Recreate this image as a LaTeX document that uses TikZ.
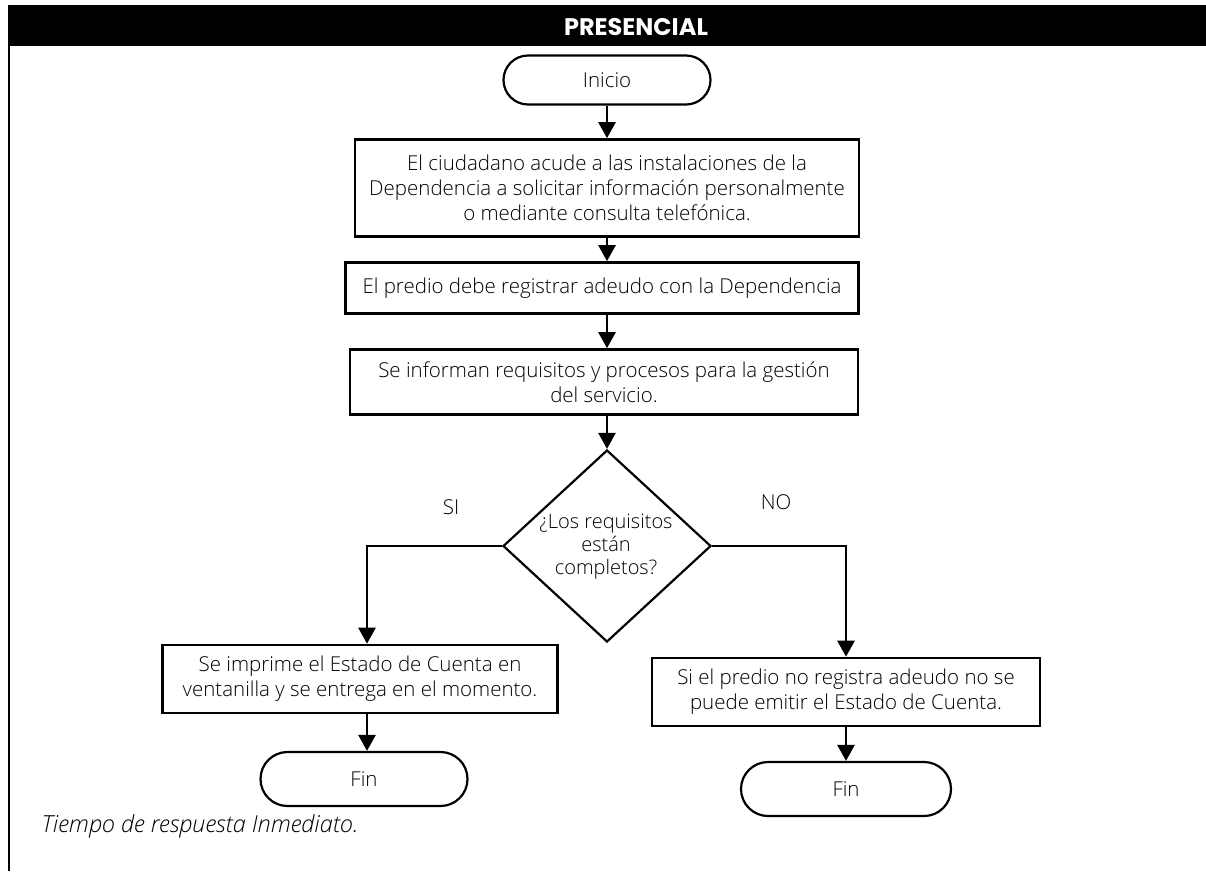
\documentclass[tikz,border=0pt]{standalone}
\usepackage{fontspec}
\setmainfont{Open Sans Light}
\newfontfamily\titlefont{Poppins}
\usetikzlibrary{arrows.meta,shapes.geometric,shapes.misc}
\begin{document}
\begin{tikzpicture}[x=1pt,y=-1pt,
  every node/.style={font=\fontsize{20.5}{25}\selectfont},
  box/.style={draw,line width=2.6pt,rectangle,align=center,inner sep=0pt},
  term/.style={draw,line width=2.2pt,rounded rectangle,inner sep=0pt,align=center},
  dec/.style={draw,line width=2.2pt,diamond,inner sep=0pt,align=center},
  arr/.style={line width=2.6pt,-{Triangle[length=16pt,width=17pt]}},
  lbl/.style={font=\fontsize{20.5}{22}\selectfont}]
\useasboundingbox (0,0) rectangle (1206,871);
\fill[black] (8,5) rectangle (1206,46);
\node[text=white,font=\fontsize{24}{25}\titlefont\bfseries] (title) at (636,27) {PRESENCIAL};
\draw[line width=2pt] (9,46) -- (9,871);

\node[term,minimum width=207pt,minimum height=49pt] (ini) at (607,80) {Inicio};
\node[box,minimum width=504pt,minimum height=97pt] (b1) at (607,188)
  {El ciudadano acude a las instalaciones de la\\Dependencia a solicitar información personalmente\\o mediante consulta telefónica.};
\node[box,minimum width=513pt,minimum height=51pt] (b2) at (602,288)
  {El predio debe registrar adeudo con la Dependencia};
\node[box,minimum width=508pt,minimum height=65pt] (b3) at (604,382)
  {Se informan requisitos y procesos para la gestión\\del servicio.};
\node[dec,minimum width=208pt,minimum height=192pt] (d) at (607,546) {};
\node[align=center,font=\fontsize{20}{23}\selectfont] (dt) at (606,547) {¿Los requisitos\\están\\completos?};
\node[lbl] (si) at (451,507) {SI};
\node[lbl] (no) at (776,502) {NO};
\node[box,minimum width=395pt,minimum height=68pt] (lb) at (360,679)
  {Se imprime el Estado de Cuenta en\\ventanilla y se entrega en el momento.};
\node[box,minimum width=388pt,minimum height=68pt] (rb) at (846,692)
  {Si el predio no registra adeudo no se\\puede emitir el Estado de Cuenta.};
\node[term,minimum width=207pt,minimum height=54pt] (f1) at (364,779) {Fin};
\node[term,minimum width=210pt,minimum height=54pt] (f2) at (846,789) {Fin};
\node[anchor=west,font=\fontsize{23.5}{24}\selectfont\itshape] (foot) at (38,826) {Tiempo de respuesta Inmediato.};

\coordinate (lx) at (367,0);
\draw[arr] (ini.south) -- (ini.south |- b1.north);
\draw[arr] (b1.south -| ini.south) -- (ini.south |- b2.north);
\draw[arr] (b2.south -| ini.south) -- (ini.south |- b3.north);
\draw[arr] (b3.south -| ini.south) -- (d.north);
\draw[arr] (d.west) -| (lx |- lb.north);
\draw[arr] (d.east) -| (rb.north);
\draw[arr] (lx |- lb.south) -- (lx |- f1.north);
\draw[arr] (rb.south) -- (f2.north);
\end{tikzpicture}
\end{document}
